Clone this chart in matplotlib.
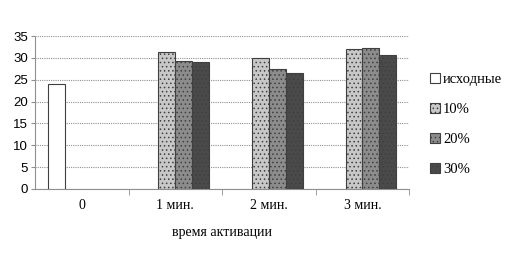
import matplotlib
matplotlib.use("Agg")
import matplotlib.pyplot as plt
import numpy as np

categories = ["0", "1 мин.", "2 мин.", "3 мин."]
series_names = ["исходные", "10%", "20%", "30%"]
v_base = [24.0, 0, 0, 0]
v_10 = [0, 31.4, 30.0, 32.0]
v_20 = [0, 29.4, 27.4, 32.2]
v_30 = [0, 29.1, 26.6, 30.6]
yticks = [0, 5, 10, 15, 20, 25, 30, 35]

colors = ["white", "#c8c8c8", "#8c8c8c", "#4a4a4a"]
hatches = [None, "....", "....", "...."]

fig = plt.figure(figsize=(5.07, 2.54), dpi=100)
ax = fig.add_axes([0.069, 0.256, 0.738, 0.602])

x = np.arange(len(categories))
w = 0.18
all_vals = [v_base, v_10, v_20, v_30]
for i, (vals, name) in enumerate(zip(all_vals, series_names)):
    offs = (i - 1.5) * w
    xs = [xi + offs for xi, v in zip(x, vals) if v > 0]
    vs = [v for v in vals if v > 0]
    plt.rcParams['hatch.color'] = '#6a6a6a' if i < 3 else '#2a2a2a'
    plt.rcParams['hatch.linewidth'] = 0.6
    ax.bar(xs, vs, width=w, color=colors[i], edgecolor="#404040",
           linewidth=0.8, hatch=hatches[i], label=name, zorder=3)

ax.set_xlim(-0.5, 3.5)
ax.set_ylim(0, 35)
ax.set_yticks(yticks)
ax.set_yticklabels([str(t) for t in yticks], fontfamily="Liberation Sans", fontsize=9.5)
ax.set_xticks(x)
ax.set_xticklabels(categories, fontfamily="Liberation Serif", fontsize=10)
ax.tick_params(axis="x", length=0, pad=7)
ax.set_xticks([0.5, 1.5, 2.5, 3.5], minor=True)
ax.tick_params(axis="x", which="minor", length=4, color="#909090")
ax.tick_params(axis="y", length=3, color="#909090", pad=2)
ax.yaxis.grid(True, linestyle=(0, (1, 1)), color="#909090", linewidth=0.8, zorder=0)
for s in ["top", "right"]:
    ax.spines[s].set_visible(False)
for s in ["left", "bottom"]:
    ax.spines[s].set_color("#909090")
    ax.spines[s].set_linestyle((0, (1, 1)))
ax.set_xlabel("время активации", fontfamily="Liberation Serif", fontsize=10, labelpad=10)

leg = ax.legend(loc="center left", bbox_to_anchor=(1.02, 0.42), frameon=False,
                prop={"family": "Liberation Serif", "size": 10.5},
                handlelength=0.7, handleheight=0.7, handletextpad=0.2,
                labelspacing=1.15)

fig.savefig("out.png", dpi=100)
